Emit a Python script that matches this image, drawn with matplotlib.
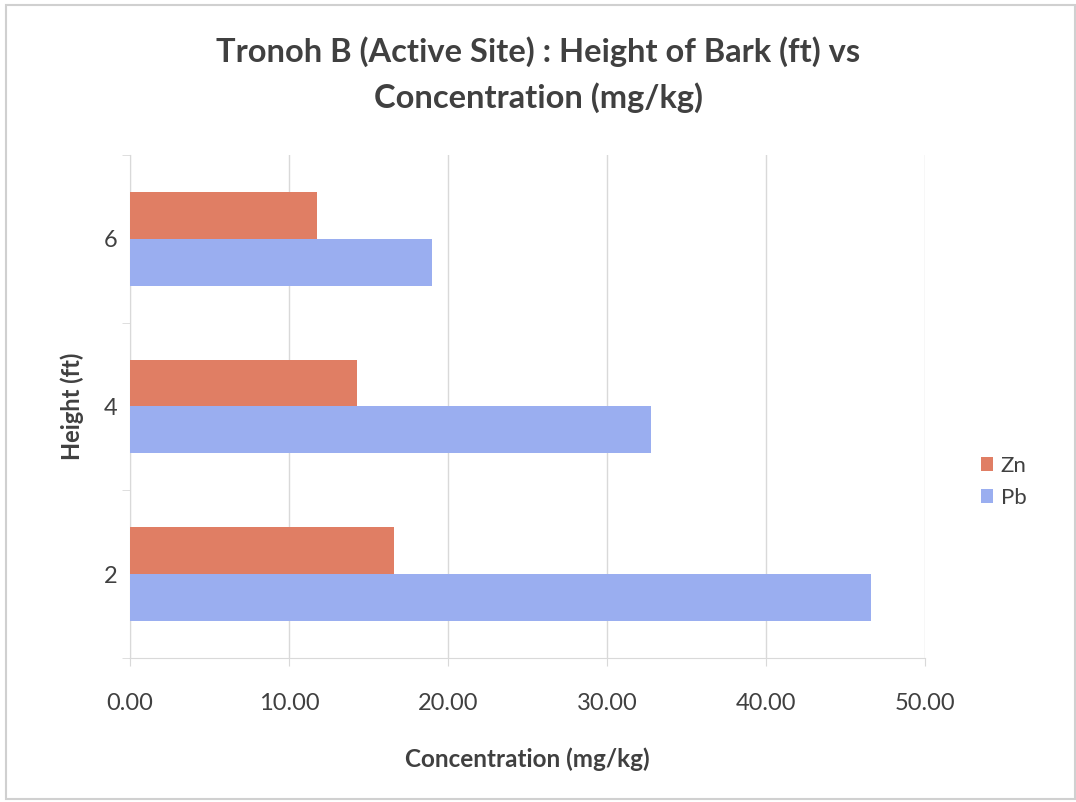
import numpy as np
import matplotlib
matplotlib.use("Agg")
import matplotlib.pyplot as plt
from matplotlib.patches import Rectangle

heights = ["2", "4", "6"]
zn = [16.6, 14.26, 11.74]
pb = [46.6, 32.77, 18.97]
xticks = [0, 10, 20, 30, 40, 50]

plt.rcParams['font.family'] = ['Lato', 'DejaVu Sans']
text_c = '#404040'
grid_c = '#d9d9d9'

fig = plt.figure(figsize=(10.76, 8.02), dpi=100)
ax = fig.add_axes([0.1208, 0.1796, 0.7389, 0.6272])

y = np.arange(len(heights))
h = 0.28
ax.barh(y - h / 2, pb, height=h, color='#9aaef0', label='Pb', zorder=3)
ax.barh(y + h / 2, zn, height=h, color='#e07e64', label='Zn', zorder=3)

ax.set_xlim(0, 50)
ax.set_ylim(-0.5, 2.5)
ax.set_xticks(xticks)
ax.set_xticklabels(["%.2f" % v for v in xticks])
ax.set_yticks(y)
ax.set_yticklabels(heights)
ax.set_yticks(np.arange(-0.5, 3, 1), minor=True)
ax.tick_params(axis='y', which='major', length=0, pad=9, labelsize=17, labelcolor=text_c)
ax.tick_params(axis='y', which='minor', length=6, color=grid_c, direction='out')
ax.tick_params(axis='x', length=6, color=grid_c, pad=19, labelsize=17, labelcolor=text_c)
ax.grid(axis='x', color=grid_c, linewidth=1, zorder=0)
for s in ['top', 'right']:
    ax.spines[s].set_visible(False)
for s in ['left', 'bottom']:
    ax.spines[s].set_color(grid_c)

ax.set_xlabel('Concentration (mg/kg)', fontsize=17.5, fontweight='bold', color=text_c, labelpad=24)
ax.set_ylabel('Height (ft)', fontsize=17, fontweight='bold', color=text_c, labelpad=14)

fig.suptitle('Tronoh B (Active Site) : Height of Bark (ft) vs\nConcentration (mg/kg)',
             x=0.5, y=0.955, fontsize=23.5, fontweight='bold', color=text_c, linespacing=1.6)

hd, lb = ax.get_legend_handles_labels()
ax.legend(hd[::-1], lb[::-1], loc='center left', bbox_to_anchor=(1.045, 0.35), frameon=False,
          fontsize=16, labelcolor=text_c, handlelength=0.55, handleheight=0.55,
          handletextpad=0.35, labelspacing=0.55)

fig.patches.append(Rectangle((0.006, 0.004), 0.993, 0.99, transform=fig.transFigure,
                             fill=False, edgecolor='#d0d0d0', linewidth=1.5))

fig.savefig('out.png', dpi=100)
